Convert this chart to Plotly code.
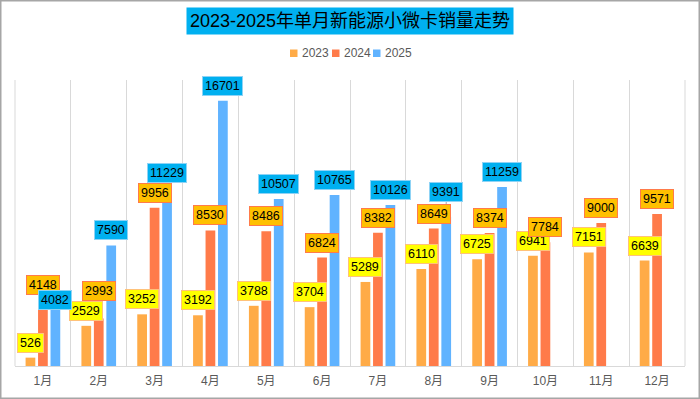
import plotly.graph_objects as go

months = ["1月", "2月", "3月", "4月", "5月", "6月", "7月", "8月", "9月", "10月", "11月", "12月"]
series_names = ["2023", "2024", "2025"]
sales_2023 = [526, 2529, 3252, 3192, 3788, 3704, 5289, 6110, 6725, 6941, 7151, 6639]
sales_2024 = [4148, 2993, 9956, 8530, 8486, 6824, 8382, 8649, 8374, 7784, 9000, 9571]
sales_2025 = [4082, 7590, 11229, 16701, 10507, 10765, 10126, 9391, 11259, None, None, None]
title_text = "2023-2025年单月新能源小微卡销量走势"

all_values = [sales_2023, sales_2024, sales_2025]
bar_colors = ["#FFAB47", "#FF7B4A", "#60B3FF"]
label_bg = ["#FFFF00", "#FFC000", "#00B0F0"]
label_border = ["#FFC27A", "#FF7B4A", "#8FD3F5"]

# manual label nudges (pixels), keyed by (series index, month index)
label_nudge = {(2, 0): -14, (1, 1): 12, (2, 7): 10}
leader_lines = [(2, 7)]

W, H = 700, 399
ML, MR, MT, MB = 15, 15, 80, 33
PW, PH = W - ML - MR, H - MT - MB
BARGAP = 0.33
cat_px = PW / len(months)
slot_px = cat_px * (1 - BARGAP) / 3
offsets = [-slot_px, 0, slot_px]


def px_x(px):
    return (px - ML) / PW


def px_y(py):
    return (MT + PH - py) / PH


FONT = "Liberation Sans, Arial, Noto Sans CJK SC, sans-serif"

fig = go.Figure()
for name, vals, col in zip(series_names, all_values, bar_colors):
    fig.add_trace(go.Bar(name=name, x=months, y=vals, showlegend=False,
                         marker=dict(color=col, line=dict(width=0))))

annotations = []
shapes = []

# plot-area edge gridlines
for xe in (0, 1):
    shapes.append(dict(type="line", xref="paper", yref="paper", x0=xe, x1=xe, y0=0, y1=1,
                       line=dict(color="#D9D9D9", width=1), layer="below"))

for si, vals in enumerate(all_values):
    for mi, v in enumerate(vals):
        if v is None:
            continue
        annotations.append(dict(
            x=months[mi], y=v, xref="x", yref="y",
            text=str(v), showarrow=False,
            xanchor="center", yanchor="bottom",
            xshift=offsets[si], yshift=5 + label_nudge.get((si, mi), 0),
            bgcolor=label_bg[si], bordercolor=label_border[si],
            borderwidth=1, borderpad=2,
            font=dict(family=FONT, size=12.5, color="#000000"),
        ))

for si, mi in leader_lines:
    v = all_values[si][mi]
    shapes.append(dict(
        type="line", xref="x", yref="y",
        x0=months[mi], x1=months[mi],
        x0shift=offsets[si] / cat_px, x1shift=offsets[si] / cat_px,
        ysizemode="pixel", yanchor=v, y0=0, y1=5 + label_nudge.get((si, mi), 0),
        line=dict(color="#A6A6A6", width=1), layer="above",
    ))

# title box
annotations.append(dict(
    x=0.5, y=px_y(21.5), xref="paper", yref="paper", text=title_text, showarrow=False,
    xanchor="center", yanchor="middle",
    bgcolor="#00B0F0", borderpad=3,
    font=dict(family="Liberation Sans, Noto Sans CJK SC, sans-serif", size=18, color="#000000"),
))

# compact legend: swatch + label
legend_x = [290, 332, 373]
for name, col, lx in zip(series_names, bar_colors, legend_x):
    shapes.append(dict(type="rect", xref="paper", yref="paper",
                       x0=px_x(lx), x1=px_x(lx + 7.5), y0=px_y(57), y1=px_y(49.5),
                       line=dict(width=0), fillcolor=col, layer="above"))
    annotations.append(dict(x=px_x(lx + 10), y=px_y(53.5), xref="paper", yref="paper",
                            text=name, showarrow=False, xanchor="left", yanchor="middle",
                            font=dict(family=FONT, size=12, color="#595959")))

# outer border
shapes.append(dict(
    type="rect", xref="paper", yref="paper",
    x0=px_x(0.75), x1=px_x(W - 0.75), y0=px_y(H - 0.75), y1=px_y(0.75),
    line=dict(color="#A6A6A6", width=1.5), fillcolor="rgba(0,0,0,0)", layer="above",
))

fig.update_layout(
    width=W, height=H,
    margin=dict(l=ML, r=MR, t=MT, b=MB, pad=0),
    paper_bgcolor="#FFFFFF", plot_bgcolor="#FFFFFF",
    barmode="group", bargap=BARGAP, bargroupgap=0.22,
    font=dict(family=FONT, color="#595959"),
    showlegend=False,
    hovermode=False,
    xaxis=dict(type="category", tickson="boundaries", showgrid=True, gridcolor="#D9D9D9", gridwidth=1,
               showline=True, linecolor="#D9D9D9", linewidth=1, ticks="", ticklabelstandoff=4,
               tickfont=dict(size=12, color="#595959"), fixedrange=True),
    yaxis=dict(visible=False, range=[0, 18000], showgrid=False, zeroline=False, fixedrange=True),
    annotations=annotations,
    shapes=shapes,
)

fig.write_html("out.html", config={"displayModeBar": False},
               post_script="document.body.style.margin='0';")
